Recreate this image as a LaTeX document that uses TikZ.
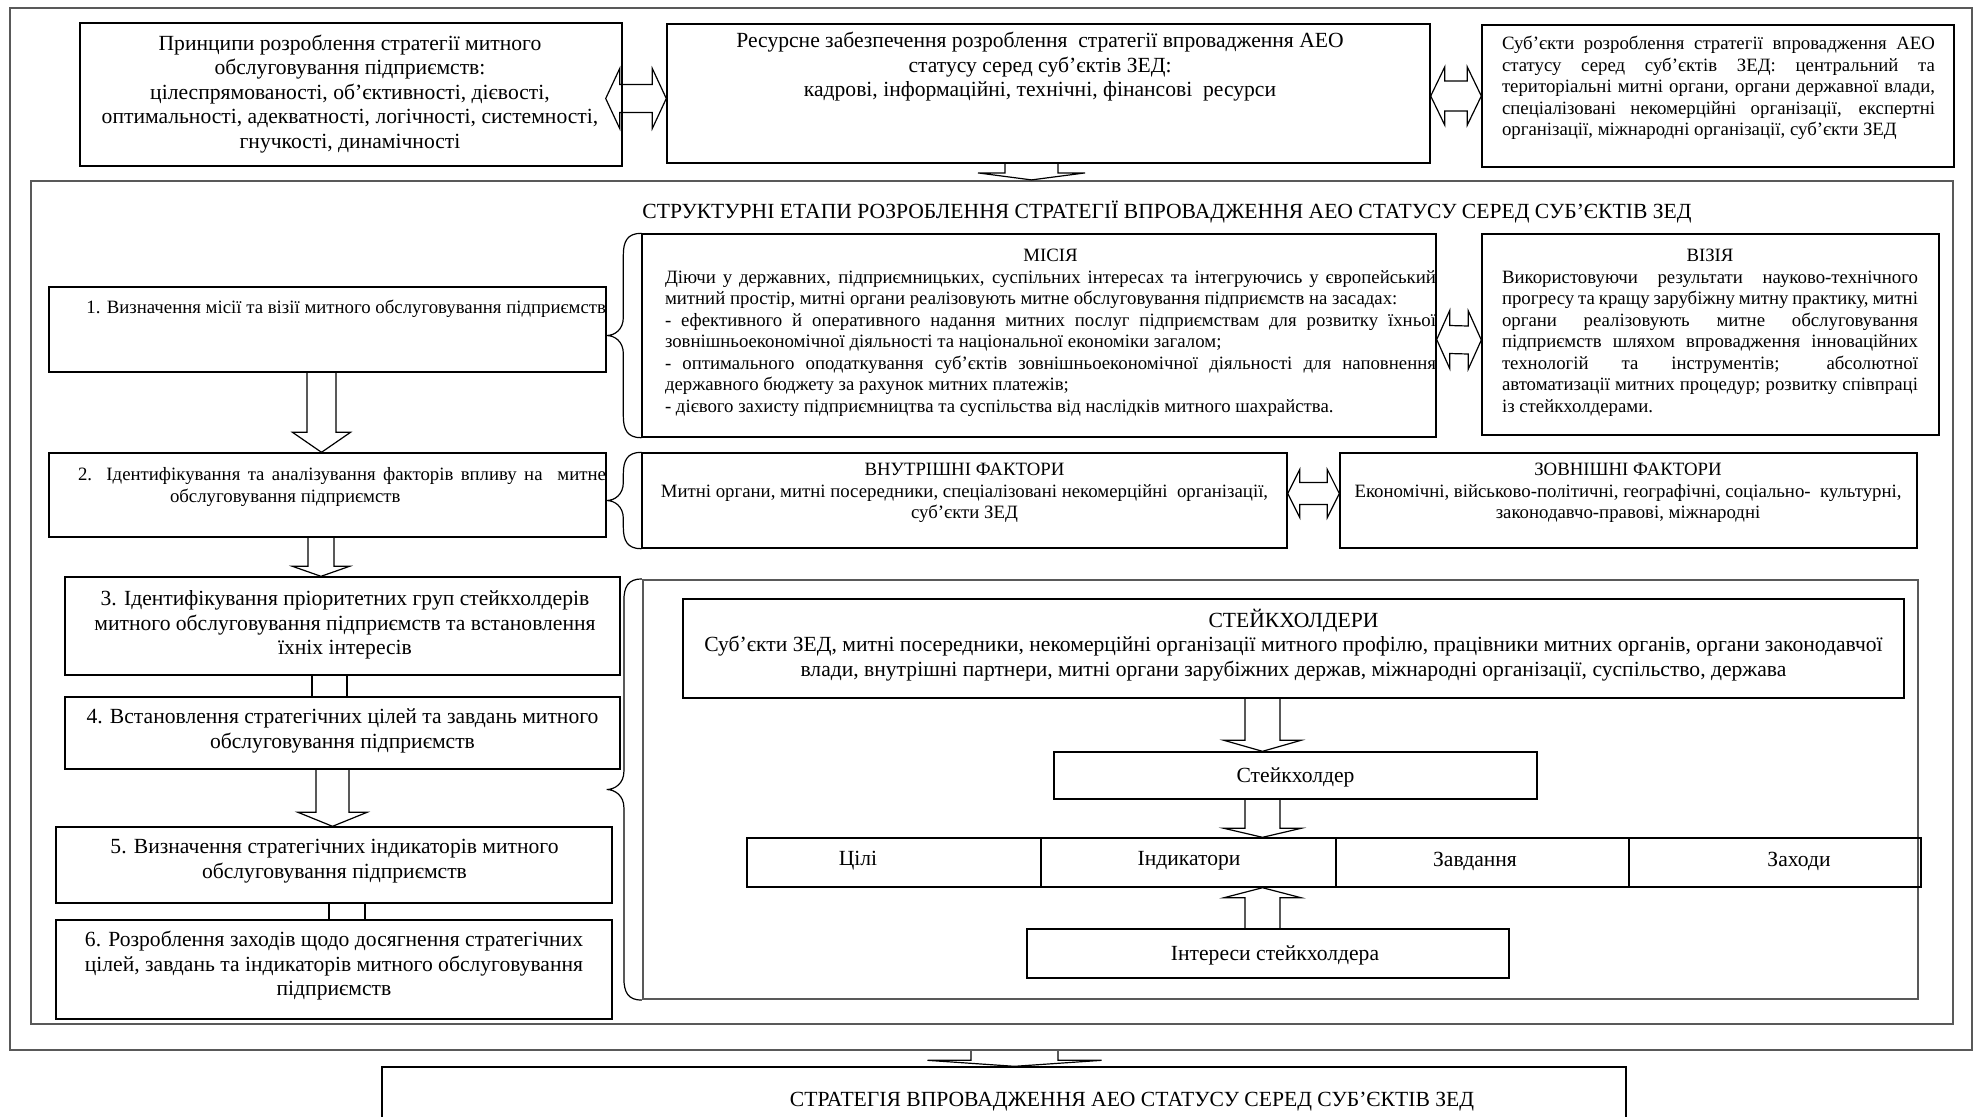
\documentclass[tikz,border=0pt]{standalone}
\usepackage{fontspec}
\setmainfont{Liberation Serif}
\usetikzlibrary{calc,fit}
\tikzset{
 box/.style={draw=black, line width=0.7pt, inner sep=0pt},
 frm/.style={draw=black!65, line width=1.1pt, inner sep=0pt},
 blk/.style={draw=black, line width=0.6pt, line join=miter},
 brc/.style={draw=black, line width=0.6pt},
 big/.style={font=\fontsize{10.8}{12.25}\selectfont, inner sep=0pt},
 small/.style={font=\fontsize{9.4}{10.75}\selectfont, inner sep=0pt},
}
\newcommand\bx[6][box]{\node[#1, fit={(#3,#4) (#5,#6)}] (#2) {};}
% double horizontal block arrow: left tip, right tip, half shaft, half head, head length
\newcommand\dblarrow[5]{\draw[blk] (#1) -- ($(#1)+(#5,-#4)$) -- ($(#1)+(#5,-#3)$) -- ($(#2)+(-#5,-#3)$) -- ($(#2)+(-#5,-#4)$) -- (#2) -- ($(#2)+(-#5,#4)$) -- ($(#2)+(-#5,#3)$) -- ($(#1)+(#5,#3)$) -- ($(#1)+(#5,#4)$) -- cycle;}
% down block arrow: start (top centre), tip, half shaft, half head, head length
\newcommand\dnblk[5]{\draw[blk] ($(#1)+(-#3,0)$) -- ($(#2)+(-#3,-#5)$) -- ($(#2)+(-#4,-#5)$) -- (#2) -- ($(#2)+(#4,-#5)$) -- ($(#2)+(#3,-#5)$) -- ($(#1)+(#3,0)$);}
\newcommand\upblk[5]{\draw[blk] ($(#1)+(-#3,0)$) -- ($(#2)+(-#3,#5)$) -- ($(#2)+(-#4,#5)$) -- (#2) -- ($(#2)+(#4,#5)$) -- ($(#2)+(#3,#5)$) -- ($(#1)+(#3,0)$);}
% left curly brace along west side of #1, tip at x of #2
\newcommand\lbrc[2]{\draw[brc] let \p1=(#1.north west), \p2=(#1.south west), \p3=(#2), \p4=($(#1.north west)!0.5!(#1.south west)$) in
 (\p1) .. controls (\x1-7pt,\y1) and (\x1-9pt,\y1-4pt) .. (\x1-9pt,\y1-11pt) -- (\x1-9pt,\y4+9pt) .. controls (\x1-9pt,\y4+3pt) and (\x3+4pt,\y4) .. (\x3,\y4) .. controls (\x3+4pt,\y4) and (\x1-9pt,\y4-3pt) .. (\x1-9pt,\y4-9pt) -- (\x1-9pt,\y2+11pt) .. controls (\x1-9pt,\y2+4pt) and (\x1-7pt,\y2) .. (\p2);}
\newcommand\jl[2]{\makebox[#1][s]{#2}}
\begin{document}
\begin{tikzpicture}[x=0.5pt,y=-0.5pt]
\useasboundingbox (0,0) rectangle (1979,1116);
% frames and boxes
\bx[frm]{outer}{10}{8}{1972}{1050}
\bx{P}{80}{23}{622}{166}
\bx{R}{667}{24}{1430}{163}
\bx{S}{1482}{25}{1954}{167}
\bx[frm]{inner}{31}{181}{1953}{1024}
\bx{b1}{49}{287}{606}{372}
\bx{mis}{642}{234}{1436}{437}
\bx{vis}{1482}{234}{1939}{435}
\bx{b2}{49}{453}{606}{537}
\bx{inf}{642}{453}{1287}{548}
\bx{exf}{1340}{453}{1917}{548}
\bx{b3}{65}{577}{620}{675}
\bx{b4}{65}{697}{620}{769}
\bx{b5}{56}{827}{612}{903}
\bx{b6}{56}{920}{612}{1019}
\bx[frm]{stk}{643}{580}{1918}{999}
\bx{stkb}{683}{599}{1904}{698}
\bx{stk1}{1054}{752}{1537}{799}
\bx{c1}{747}{838}{1041}{887}
\bx{c2}{1041}{838}{1336}{887}
\bx{c3}{1336}{838}{1629}{887}
\bx{c4}{1629}{838}{1921}{887}
\bx{intr}{1027}{929}{1509}{978}
\bx{strat}{382}{1067}{1626}{1150}
% texts
\node[big, align=center] (tP) at (350,94) {Принципи розроблення стратегії митного\\ обслуговування підприємств:\\ цілеспрямованості, об’єктивності, дієвості,\\ оптимальності, адекватності, логічності, системності,\\ гнучкості, динамічності};
\node[big, align=center] (tR) at (1040,67) {Ресурсне забезпечення розроблення\ \ стратегії впровадження АЕО\\ статусу серед суб’єктів ЗЕД:\\ кадрові, інформаційні, технічні, фінансові\ \ ресурси};
\node[small, align=left] (tS) at (1718.5,88) {\jl{216.5pt}{Суб’єкти розроблення стратегії впровадження АЕО}\\ \jl{216.5pt}{статусу серед суб’єктів ЗЕД: центральний та}\\ \jl{216.5pt}{територіальні митні органи, органи державної влади,}\\ \jl{216.5pt}{спеціалізовані некомерційні організації, експертні}\\ організації, міжнародні організації, суб’єкти ЗЕД};
\node[big] (title) at (1167,212) {СТРУКТУРНІ ЕТАПИ РОЗРОБЛЕННЯ СТРАТЕГІЇ ВПРОВАДЖЕННЯ АЕО СТАТУСУ СЕРЕД СУБ’ЄКТІВ ЗЕД};
\node[small, anchor=base west] (t1) at (86,313) {1. Визначення місії та візії митного обслуговування підприємств};
\node[small, align=left] (tM) at (1050.5,333) {\makebox[385.5pt]{МІСІЯ}\\
\jl{385.5pt}{Діючи у державних, підприємницьких, суспільних інтересах та інтегруючись у європейський}\\
митний простір, митні органи реалізовують митне обслуговування підприємств на засадах:\\
\jl{385.5pt}{- ефективного й оперативного надання митних послуг підприємствам для розвитку їхньої}\\
зовнішньоекономічної діяльності та національної економіки загалом;\\
\jl{385.5pt}{- оптимального оподаткування суб’єктів зовнішньоекономічної діяльності для наповнення}\\
державного бюджету за рахунок митних платежів;\\
- дієвого захисту підприємництва та суспільства від наслідків митного шахрайства.};
\node[small, align=left] (tV) at (1710,333) {\makebox[208pt]{ВІЗІЯ}\\
\jl{208pt}{Використовуючи результати науково-технічного}\\
\jl{208pt}{прогресу та кращу зарубіжну митну практику, митні}\\
\jl{208pt}{органи реалізовують митне обслуговування}\\
\jl{208pt}{підприємств шляхом впровадження інноваційних}\\
\jl{208pt}{технологій та інструментів; абсолютної}\\
\jl{208pt}{автоматизації митних процедур; розвитку співпраці}\\
із стейкхолдерами.};
\node[small, align=left] (t2) at (342,487) {\jl{264pt}{2. Ідентифікування та аналізування факторів впливу на\ \ митне}\\ \hspace*{46pt}обслуговування підприємств};
\node[small, align=center] (tI) at (964.5,493) {ВНУТРІШНІ ФАКТОРИ\\ Митні органи, митні посередники, спеціалізовані некомерційні\ \ організації,\\ суб’єкти ЗЕД};
\node[small, align=center] (tE) at (1628,493) {ЗОВНІШНІ ФАКТОРИ\\ Економічні, військово-політичні, географічні, соціально-\ \ культурні,\\ законодавчо-правові, міжнародні};
\node[big, align=center] (t3) at (345,625) {3. Ідентифікування пріоритетних груп стейкхолдерів\\ митного обслуговування підприємств та встановлення\\ їхніх інтересів};
\node[big, align=center] (t4) at (342.5,731) {4. Встановлення стратегічних цілей та завдань митного\\ обслуговування підприємств};
\node[big, align=center] (t5) at (334.5,861) {5. Визначення стратегічних індикаторів митного\\ обслуговування підприємств};
\node[big, align=center] (t6) at (334,966) {6. Розроблення заходів щодо досягнення стратегічних\\ цілей, завдань та індикаторів митного обслуговування\\ підприємств};
\node[big, align=center] (tStk) at (1293.5,645) {СТЕЙКХОЛДЕРИ\\ Суб’єкти ЗЕД, митні посередники, некомерційні організації митного профілю, працівники митних органів, органи законодавчої\\ влади, внутрішні партнери, митні органи зарубіжних держав, міжнародні організації, суспільство, держава};
\node[big] (tStk1) at (1295.5,777) {Стейкхолдер};
\node[big] (tc1) at (858,861) {Цілі};
\node[big] (tc2) at (1189,861) {Індикатори};
\node[big] (tc3) at (1475,861) {Завдання};
\node[big] (tc4) at (1799,861) {Заходи};
\node[big] (tIntr) at (1275,955) {Інтереси стейкхолдера};
\node[big] (tStrat) at (1132,1102) {СТРАТЕГІЯ ВПРОВАДЖЕННЯ АЕО СТАТУСУ СЕРЕД СУБ’ЄКТІВ ЗЕД};
% braces
\lbrc{mis}{b1.east}
\lbrc{inf}{b2.east}
\lbrc{stk}{b1.east |- b5.east}
% double arrows
\coordinate (aPRl) at ($(P.east)+(-17,4)$);
\coordinate (aPRr) at ($(R.west)+(0,5)$);
\dblarrow{aPRl}{aPRr}{14}{30}{14}
\coordinate (aRSl) at ($(R.east)+(0,2.5)$);
\coordinate (aRSr) at (S.west);
\dblarrow{aRSl}{aRSr}{15}{29}{14}
\coordinate (aMVl) at ($(mis.east)+(0,4)$);
\coordinate (aMVr) at ($(vis.west)+(0,5.5)$);
\dblarrow{aMVl}{aMVr}{14}{29}{13}
\coordinate (aIEl) at ($(inf.east)+(0,-7)$);
\coordinate (aIEr) at ($(exf.west)+(0,-7)$);
\dblarrow{aIEl}{aIEr}{11}{24}{12}
% down arrows
\coordinate (dR) at ($(R.south)+(-17,0)$);
\coordinate (dRt) at (inner.north -| dR);
\dnblk{dR}{dRt}{26.5}{53.5}{7}
\coordinate (d1) at ($(b1.south)+(-6,0)$);
\coordinate (d1t) at (b2.north -| d1);
\dnblk{d1}{d1t}{14.5}{29}{20}
\coordinate (d2) at ($(b2.south)+(-6.5,0)$);
\coordinate (d2t) at (b3.north -| d2);
\dnblk{d2}{d2t}{13}{28.5}{10}
\coordinate (d4) at ($(b4.south)+(-10,0)$);
\coordinate (d4t) at (b5.north -| d4);
\dnblk{d4}{d4t}{16.5}{34.5}{14}
\coordinate (ds) at ($(stkb.south)+(-31,0)$);
\coordinate (dst) at (stk1.north -| ds);
\dnblk{ds}{dst}{17.5}{38.5}{11}
\coordinate (ds1) at (stk1.south -| ds);
\coordinate (ds1t) at (c2.north -| ds);
\dnblk{ds1}{ds1t}{17.5}{38.5}{9}
\coordinate (ui) at (intr.north -| ds);
\coordinate (uit) at (c2.south -| ds);
\upblk{ui}{uit}{17.5}{38.5}{10}
\coordinate (dO) at ($(outer.south)+(23.5,0)$);
\coordinate (dOt) at (strat.north -| dO);
\dnblk{dO}{dOt}{43.5}{87}{6}
% tubes
\draw[blk] ($(b3.south)+(-30.5,0)$) -- ($(b4.north)+(-30.5,0)$);
\draw[blk] ($(b3.south)+(4.5,0)$) -- ($(b4.north)+(4.5,0)$);
\draw[blk] ($(b5.south)+(-5,0)$) -- ($(b6.north)+(-5,0)$);
\draw[blk] ($(b5.south)+(31,0)$) -- ($(b6.north)+(31,0)$);
\end{tikzpicture}
\end{document}
